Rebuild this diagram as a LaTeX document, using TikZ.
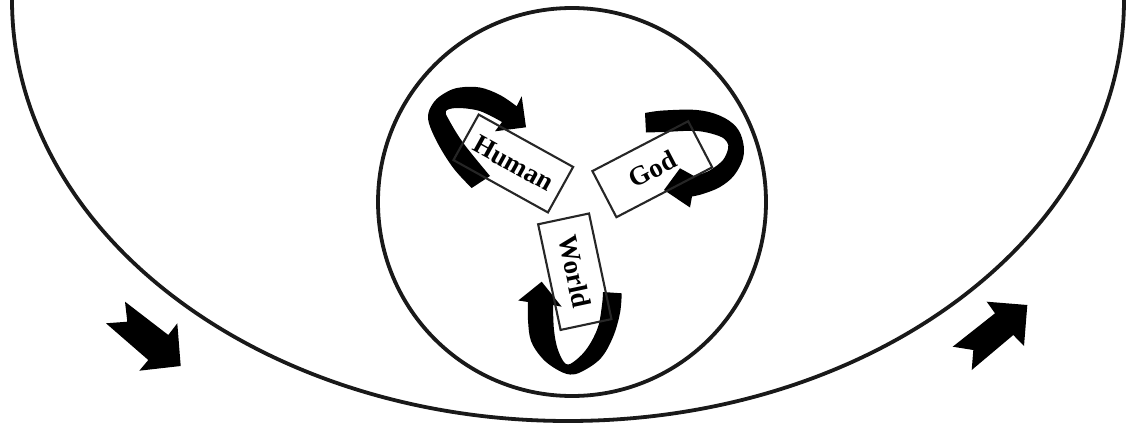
\documentclass[tikz,border=0pt]{standalone}
\usepackage{fontspec}
\setmainfont{Liberation Serif}
\usepackage{tikz}
\tikzset{
  wordbox/.style={draw=black!85, line width=2.1pt, minimum width=108pt, minimum height=52pt, inner sep=0pt, font=\fontsize{27}{32}\selectfont\bfseries},
  ribbon/.style={fill=black},
  rim/.style={draw=black!90, line width=3.8pt}
}
\begin{document}
\begin{tikzpicture}[x=1pt, y=1pt, yscale=-1]
  \useasboundingbox (0,0) rectangle (1132,423);
  \draw[rim] (12,0) arc[start angle=180, end angle=0, x radius=556, y radius=421];
  \node[rim, circle, minimum size=388pt, inner sep=0pt] (sphere) at (572,202) {};

  \fill[ribbon] plot[smooth, tension=0.6] coordinates {(471.7,188) (453.3,168) (436.7,141.3) (428,118) (434,102) (446.7,92) (460,87.5) (480,87.5) (500,95) (516.7,106.3)}
    -- (521.7,96.3) -- (526,127.3) -- (495,131.3) -- (502,122)
    -- plot[smooth, tension=0.6] coordinates {(502,122) (489,115) (476,110) (457,108) (446,111) (449,120) (464,144) (490,176)} -- cycle;
  \fill[ribbon] plot[smooth, tension=0.6] coordinates {(645,113) (663.3,110.5) (696.7,110) (720,115.7) (736,126.7) (743,141.7) (743,158.3) (734,175.5) (720,187) (703.3,193.8) (692,196.5)}
    -- (690,207.5) -- (664,190) -- (680,168.3) -- (694,176)
    -- plot[smooth, tension=0.6] coordinates {(694,176) (704,173) (712,169) (723,160) (728,149) (727,142) (719,136) (696.7,131) (663.3,132) (646,132.5)} -- cycle;
  \fill[ribbon] (541.7,281.7) -- (561.7,306.7) -- (553,305)
    -- plot[smooth, tension=0.6] coordinates {(553,305) (554,330) (558,350) (566,364) (576,360) (588,347) (598,327) (602,305) (603,292)}
    -- (621.7,293.3)
    -- plot[smooth, tension=0.6] coordinates {(621.7,293.3) (620,313) (613,337) (601,358) (583,371) (570,374.5) (556,369) (542,358) (531,341) (528,320) (528,302)}
    -- (518.3,300.5) -- cycle;

  \node[wordbox, rotate=-29] (human) at (513.3,163.5) {Human};
  \node[wordbox, rotate=27.5] (god) at (652.3,169.2) {God};
  \node[wordbox, rotate=-78] (world) at (574.8,271.7) {World};

  \fill[ribbon] (125,301.7) -- (168.3,335) -- (177.3,323.3) -- (180.7,366) -- (139.3,370.7) -- (148.3,360) -- (106,323.3) -- (127.3,321.7) -- cycle;
  \fill[ribbon] (1027.3,305) -- (1024,346) -- (1013.3,335) -- (971.7,370) -- (973.3,350) -- (952.7,346.7) -- (995,313.3) -- (986.7,301.7) -- cycle;
\end{tikzpicture}
\end{document}
